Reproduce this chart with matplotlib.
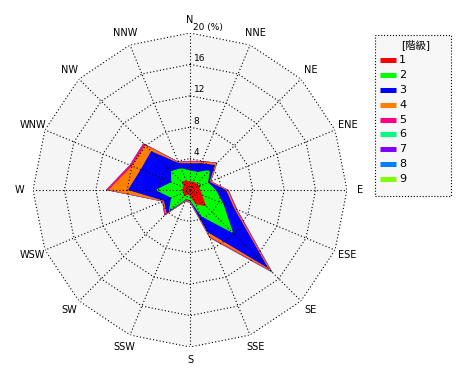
import numpy as np
import matplotlib
matplotlib.use('Agg')
import matplotlib.pyplot as plt
from matplotlib.lines import Line2D
from matplotlib.patches import Rectangle

plt.rcParams['font.family'] = ['DejaVu Sans', 'Noto Sans CJK JP']

directions = ['N', 'NNE', 'NE', 'ENE', 'E', 'ESE', 'SE', 'SSE',
              'S', 'SSW', 'SW', 'WSW', 'W', 'WNW', 'NW', 'NNW']
class_labels = ['1', '2', '3', '4', '5', '6', '7', '8', '9']
class_colors = ['#ff0000', '#00ff00', '#0000ff', '#ff8000', '#ff0080',
                '#00ff80', '#8000ff', '#0080ff', '#80ff00']

# frequency (%) of each class per direction
class1 = [1.1, 1.15, 1.2, 1.3, 1.3, 1.7, 2.9, 2.0, 0.8, 0.6, 1.2, 0.8, 1.2, 0.8, 1.5, 1.3]
class2 = [1.4, 1.35, 2.4, 1.2, 2.0, 2.9, 4.9, 1.6, 0.5, 0.7, 2.6, 1.8, 3.2, 1.8, 1.9, 1.7]
class3 = [0.9, 1.2, 0.9, 0.2, 1.3, 1.5, 6.3, 2.2, 0.1, 0.1, 0.4, 1.0, 3.5, 4.2, 3.6, 0.7]
class4 = [0.2, 0.2, 0.3, 0.1, 0.2, 0.2, 0.4, 0.6, 0.1, 0.1, 0.2, 0.1, 2.5, 1.2, 1.1, 0.1]
class5 = [0.1, 0.1, 0.1, 0.1, 0.1, 0.2, 0.3, 0.2, 0.1, 0.1, 0.2, 0.1, 0.3, 0.3, 0.3, 0.1]
class6 = [0, 0, 0, 0, 0, 0, 0.1, 0, 0, 0, 0, 0, 0, 0, 0, 0]
class7 = [0] * 16
class8 = [0] * 16
class9 = [0] * 16
calm = '0'

ring_values = [4, 8, 12, 16, 20]
rmax = 20

classes = [class1, class2, class3, class4, class5, class6, class7, class8, class9]
cum = np.cumsum(np.array(classes), axis=0)

theta = np.deg2rad(np.arange(16) * 22.5)
theta_c = np.append(theta, theta[0])

fig = plt.figure(figsize=(4.7, 3.8), dpi=100)
ax = fig.add_axes([33 / 470, 33 / 380, 314 / 470, 314 / 380], projection='polar')
ax.set_theta_zero_location('N')
ax.set_theta_direction(-1)
ax.set_ylim(0, rmax)
ax.grid(False)
ax.set_xticks([])
ax.set_yticks([])
ax.spines['polar'].set_visible(False)
ax.patch.set_visible(False)

# background polygon
ax.fill(theta_c, [rmax] * 17, color='#f5f5f5', zorder=0, lw=0)

# stacked polygons, outermost first
for i in range(len(classes) - 1, -1, -1):
    r = np.append(cum[i], cum[i][0])
    ax.fill(theta_c, r, color=class_colors[i], lw=0, zorder=1)

# grid
dots = (0, (1, 2))
for rv in ring_values:
    ax.plot(theta_c, [rv] * 17, color='black', lw=0.8, ls=dots, zorder=2)
for t in theta:
    ax.plot([t, t], [0, rmax], color='black', lw=0.8, ls=dots, zorder=2)

for rv in ring_values:
    txt = str(rv) + (' (%)' if rv == rmax else '')
    ax.annotate(txt, (0, rv), xytext=(2.5, 1), textcoords='offset points',
                ha='left', va='bottom', fontsize=6.5, zorder=3)

for t, d in zip(theta, directions):
    ax.text(t, 21.7, d, ha='center', va='center', fontsize=7)

ax.annotate(calm, (0, 0), xytext=(5, 3), textcoords='offset points',
            ha='left', va='center', fontsize=4.5, zorder=3)

# legend box (drawn by hand to match the original layout)
W, H = 470, 380
fig.add_artist(Rectangle((375 / W, 1 - 196 / H), 76 / W, 161 / H,
                         transform=fig.transFigure, facecolor='#f7f7f7',
                         edgecolor='black', linestyle=':', linewidth=0.8))
fig.text(416 / W, 1 - 45 / H, '[階級]', ha='center', va='center', fontsize=7.5)
for i, (lab, c) in enumerate(zip(class_labels, class_colors)):
    y = 1 - (60 + i * 14.9) / H
    fig.add_artist(Line2D([380 / W, 396 / W], [y, y], transform=fig.transFigure,
                          color=c, lw=3.6, solid_capstyle='butt'))
    fig.text(399 / W, y, lab, ha='left', va='center', fontsize=8)

fig.savefig('out.png', dpi=100)
